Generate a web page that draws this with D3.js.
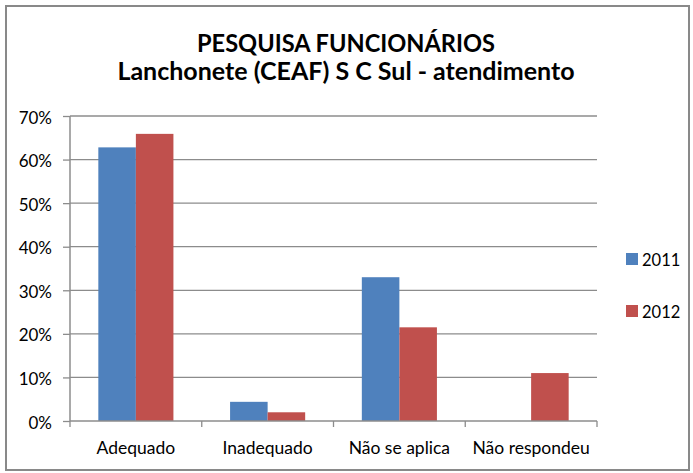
<!DOCTYPE html>
<html>
<head>
<meta charset="utf-8">
<script src="https://cdnjs.cloudflare.com/ajax/libs/d3/7.8.5/d3.min.js"></script>
<style>
  body { margin: 0; background: #fff; }
  text { font-family: Lato, "Open Sans", sans-serif; fill: #000; }
</style>
</head>
<body>
<div id="chart"></div>
<script>
// data
const categories = ['Adequado', 'Inadequado', 'Não se aplica', 'Não respondeu'];
const seriesNames = ['2011', '2012'];
const values2011 = [0.628, 0.044, 0.33, 0];
const values2012 = [0.659, 0.02, 0.215, 0.11];
const yTicks = [0, 0.1, 0.2, 0.3, 0.4, 0.5, 0.6, 0.7];
const titleLines = ['PESQUISA FUNCIONÁRIOS', 'Lanchonete (CEAF) S C Sul - atendimento'];

const colors = ['#4F81BD', '#C0504D'];

const width = 693, height = 473;
const margin = { top: 116, right: 96, bottom: 52, left: 70 };
const innerW = width - margin.left - margin.right;
const innerH = height - margin.top - margin.bottom;

const svg = d3.select('#chart').append('svg')
    .attr('width', width)
    .attr('height', height);

// outer frame
svg.append('rect')
    .attr('x', 6).attr('y', 6)
    .attr('width', 683).attr('height', 464)
    .attr('fill', '#fff')
    .attr('stroke', '#898989')
    .attr('stroke-width', 2);

// title
svg.append('text')
    .attr('text-anchor', 'middle')
    .attr('font-weight', 'bold')
    .attr('font-size', 25)
    .selectAll('tspan')
    .data(titleLines)
    .join('tspan')
    .attr('x', 346)
    .attr('y', (d, i) => 52 + i * 28)
    .attr('textLength', (d, i) => i === 0 ? 298 : null)
    .attr('lengthAdjust', 'spacingAndGlyphs')
    .text(d => d);

const chart = svg.append('g')
    .attr('transform', `translate(${margin.left},${margin.top})`);

const x0 = d3.scaleBand()
    .domain(categories)
    .range([0, innerW])
    .paddingInner(0.43)
    .paddingOuter(0.215);

const x1 = d3.scaleBand()
    .domain(seriesNames)
    .range([0, x0.bandwidth()]);

const y = d3.scaleLinear()
    .domain([0, 0.7])
    .range([innerH, 0]);

// gridlines
chart.append('g')
    .selectAll('line')
    .data(yTicks.slice(1))
    .join('line')
    .attr('x1', 0).attr('x2', innerW)
    .attr('y1', d => y(d)).attr('y2', d => y(d))
    .attr('stroke', '#8c8c8c')
    .attr('stroke-width', 1.3);

const data = categories.map((c, i) => ({ cat: c, vals: [values2011[i], values2012[i]] }));

chart.append('g')
    .selectAll('g')
    .data(data)
    .join('g')
    .attr('transform', d => `translate(${x0(d.cat)},0)`)
    .selectAll('rect')
    .data(d => d.vals.map((v, j) => ({ s: seriesNames[j], v, j })))
    .join('rect')
    .attr('x', d => x1(d.s))
    .attr('y', d => y(d.v))
    .attr('width', x1.bandwidth())
    .attr('height', d => innerH - y(d.v))
    .attr('fill', d => colors[d.j]);

// y axis
const yAxis = d3.axisLeft(y)
    .tickValues(yTicks)
    .tickFormat(d3.format('.0%'))
    .tickSize(7)
    .tickPadding(11);

const yAxisG = chart.append('g').call(yAxis);
yAxisG.select('.domain').attr('stroke', '#8c8c8c').attr('stroke-width', 1.5).attr('d', `M0,0V${innerH}`);
yAxisG.selectAll('.tick line').attr('stroke', '#8c8c8c').attr('stroke-width', 1.3);
yAxisG.selectAll('.tick text')
    .attr('font-size', 17)
    .attr('font-family', 'Lato, sans-serif')
    .attr('dy', '0.42em');

// x axis with ticks at category boundaries
const xAxisG = chart.append('g')
    .attr('transform', `translate(0,${innerH})`);
xAxisG.append('line')
    .attr('x1', 0).attr('x2', innerW)
    .attr('stroke', '#8c8c8c').attr('stroke-width', 1.5);
const step = innerW / categories.length;
xAxisG.selectAll('.bt')
    .data(d3.range(categories.length + 1))
    .join('line')
    .attr('class', 'bt')
    .attr('x1', i => i * step).attr('x2', i => i * step)
    .attr('y1', 0).attr('y2', 6)
    .attr('stroke', '#8c8c8c').attr('stroke-width', 1.3);
xAxisG.selectAll('.lbl')
    .data(categories)
    .join('text')
    .attr('class', 'lbl')
    .attr('x', d => x0(d) + x0.bandwidth() / 2)
    .attr('y', 33)
    .attr('text-anchor', 'middle')
    .attr('font-size', 17.5)
    .text(d => d);

// legend
const legend = svg.append('g')
    .attr('transform', 'translate(626,253)');
const li = legend.selectAll('g')
    .data(seriesNames)
    .join('g')
    .attr('transform', (d, i) => `translate(0,${i * 52})`);
li.append('rect')
    .attr('width', 12).attr('height', 12)
    .attr('fill', (d, i) => colors[i]);
li.append('text')
    .attr('x', 16).attr('y', 13)
    .attr('font-size', 16.5)
    .text(d => d);
</script>
</body>
</html>
